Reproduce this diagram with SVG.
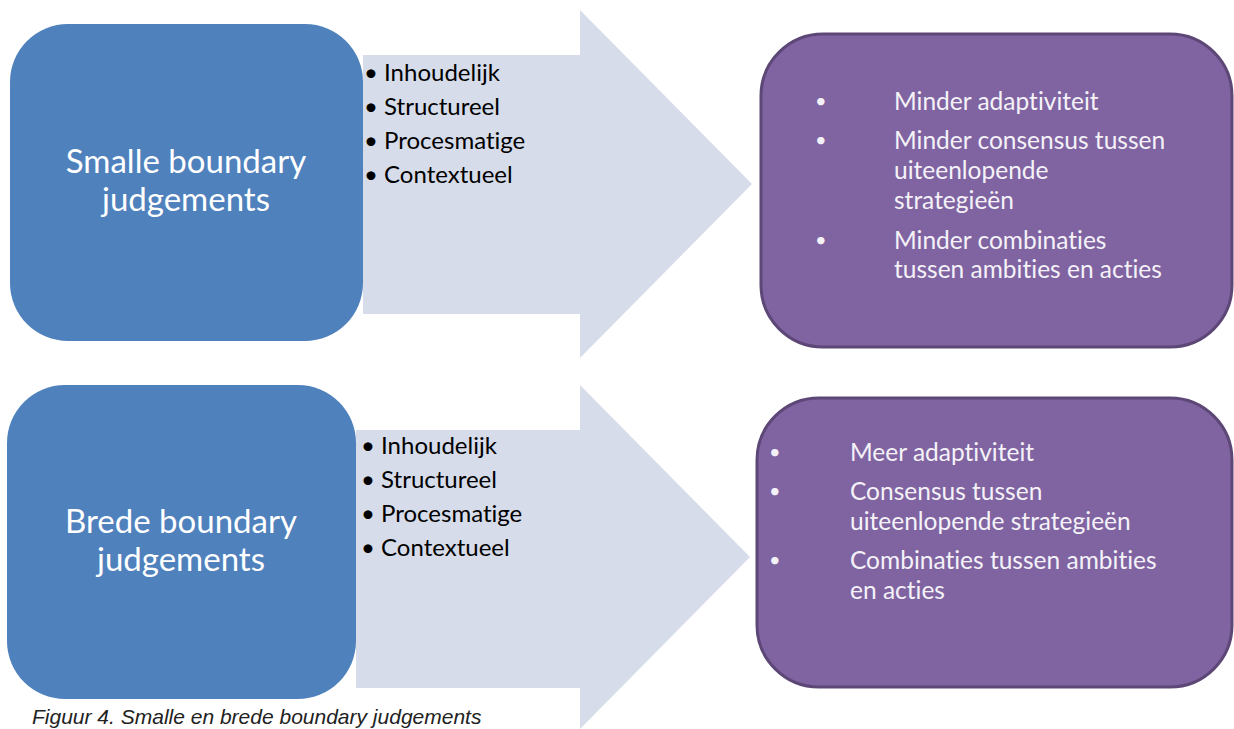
<svg xmlns="http://www.w3.org/2000/svg" width="1234" height="729" viewBox="0 0 1234 729">
<style>
text{font-variant-ligatures:none}
.blue{fill:#4f81bd}
.arrow{fill:#d6dce9}
.purple{fill:#8064a2;stroke:#5c4776;stroke-width:3}
.title{font-family:Lato,"Liberation Sans",sans-serif;font-size:33px;fill:#ffffff;text-anchor:middle}
.item{font-family:Lato,"Liberation Sans",sans-serif;font-size:24px;fill:#000000}
.res{font-family:Lato,"Liberation Sans",sans-serif;font-size:24.5px;fill:#f4f2f7}
.dot{font-family:Lato,"Liberation Sans",sans-serif;font-size:20px;fill:#f4f2f7}
.cap{font-family:"Liberation Sans",sans-serif;font-size:21px;font-style:italic;fill:#222222}
</style>
<rect width="1234" height="729" fill="#ffffff"/>
<g id="connectors">
  <path id="arrow-top" class="arrow" d="M363,55 H580 V10 L752,184 L580,358 V314 H363 Z"/>
  <path id="arrow-bottom" class="arrow" d="M356,430 H580 V385 L750,557 L580,729 V688 H356 Z"/>
</g>
<g id="labels-top">
  <text class="item" x="364" y="81">• Inhoudelijk</text>
  <text class="item" x="364" y="115">• Structureel</text>
  <text class="item" x="364" y="149">• Procesmatige</text>
  <text class="item" x="364" y="183">• Contextueel</text>
</g>
<g id="labels-bottom">
  <text class="item" x="361" y="454">• Inhoudelijk</text>
  <text class="item" x="361" y="488">• Structureel</text>
  <text class="item" x="361" y="522">• Procesmatige</text>
  <text class="item" x="361" y="556">• Contextueel</text>
</g>
<g id="node-smalle">
  <rect class="blue" x="10" y="24" width="353" height="317" rx="58" ry="58"/>
  <text class="title" x="186" y="173">Smalle boundary</text>
  <text class="title" x="186" y="211">judgements</text>
</g>
<g id="node-brede">
  <rect class="blue" x="7" y="385" width="349" height="314" rx="58" ry="58"/>
  <text class="title" x="181" y="533">Brede boundary</text>
  <text class="title" x="181" y="571">judgements</text>
</g>
<g id="node-minder">
  <rect class="purple" x="761" y="34" width="471" height="313" rx="62" ry="62"/>
  <text class="dot" x="815" y="108">•</text>
  <text class="dot" x="815" y="147">•</text>
  <text class="dot" x="815" y="247">•</text>
  <text class="res" x="894" y="110">Minder adaptiviteit</text>
  <text class="res" x="894" y="149">Minder consensus tussen</text>
  <text class="res" x="894" y="179">uiteenlopende</text>
  <text class="res" x="894" y="209">strategieën</text>
  <text class="res" x="894" y="249">Minder combinaties</text>
  <text class="res" x="894" y="278">tussen ambities en acties</text>
</g>
<g id="node-meer">
  <rect class="purple" x="757" y="398" width="475" height="289" rx="62" ry="62"/>
  <text class="dot" x="769" y="459">•</text>
  <text class="dot" x="769" y="498">•</text>
  <text class="dot" x="769" y="567">•</text>
  <text class="res" x="850" y="461">Meer adaptiviteit</text>
  <text class="res" x="850" y="500">Consensus tussen</text>
  <text class="res" x="850" y="530">uiteenlopende strategieën</text>
  <text class="res" x="850" y="569">Combinaties tussen ambities</text>
  <text class="res" x="850" y="599">en acties</text>
</g>
<text class="cap" x="32" y="724">Figuur 4. Smalle en brede boundary judgements</text>
</svg>
